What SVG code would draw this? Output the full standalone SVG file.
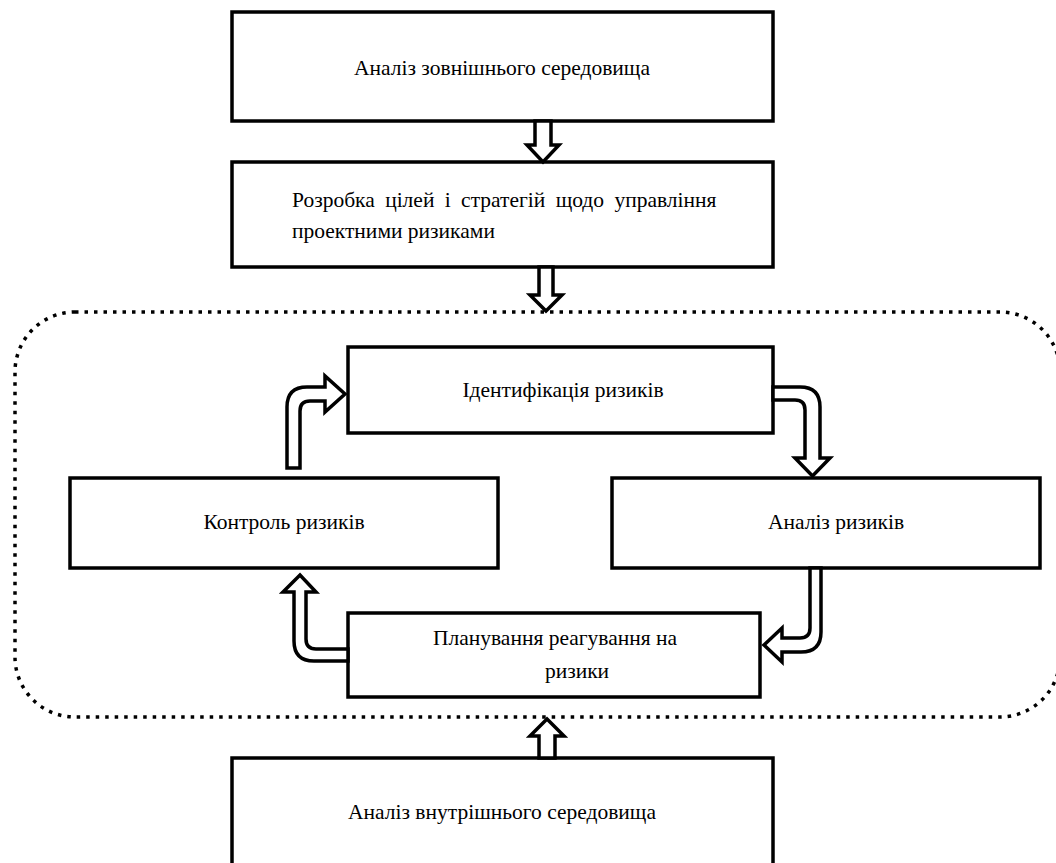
<svg xmlns="http://www.w3.org/2000/svg" width="1056" height="863" viewBox="0 0 1056 863">
<style>
.box{fill:#fff;stroke:#000;stroke-width:3.5}
.arr{fill:#fff;stroke:#000;stroke-width:3.5;stroke-linejoin:miter}
.t{font-family:"Liberation Serif","Times New Roman",serif;font-size:21.5px;fill:#000}
.frame{fill:none;stroke:#000;stroke-width:3.5;stroke-dasharray:3.5 6}
</style>
<rect width="1056" height="863" fill="#fff"/>
<rect class="frame" x="15" y="312" width="1045" height="405" rx="60" ry="60"/>
<g id="n1"><rect class="box" x="232" y="12" width="541" height="109"/><text class="t" x="502" y="75" text-anchor="middle">Аналіз зовнішнього середовища</text></g>
<g id="n2"><rect class="box" x="232" y="162" width="541" height="105"/><text class="t" x="292" y="207" word-spacing="5">Розробка цілей і стратегій щодо управління</text><text class="t" x="292" y="238">проектними ризиками</text></g>
<g id="n3"><rect class="box" x="348" y="347" width="425" height="86"/><text class="t" x="563" y="397" text-anchor="middle">Ідентифікація ризиків</text></g>
<g id="n4"><rect class="box" x="70" y="478" width="428" height="90"/><text class="t" x="284" y="529" text-anchor="middle">Контроль ризиків</text></g>
<g id="n5"><rect class="box" x="612" y="478" width="428" height="90"/><text class="t" x="836" y="529" text-anchor="middle">Аналіз ризиків</text></g>
<g id="n6"><rect class="box" x="348" y="613" width="412" height="84"/><text class="t" x="555" y="645" text-anchor="middle">Планування реагування на</text><text class="t" x="577" y="678" text-anchor="middle">ризики</text></g>
<g id="n7"><rect class="box" x="232" y="758" width="541" height="120"/><text class="t" x="502" y="819" text-anchor="middle">Аналіз внутрішнього середовища</text></g>
<g id="connectors">
<path class="arr" d="M535,121 L551,121 L551,145 L559,145 L543,162 L527,145 L535,145 Z"/>
<path class="arr" d="M539,267 L553,267 L553,295 L562,295 L546,311 L530,295 L539,295 Z"/>
<path class="arr" d="M539,758 L555,758 L555,736 L564,736 L547,719 L530,736 L539,736 Z"/>
<path class="arr" d="M287,468 L287,407 Q287,387 307,387 L325,387 L325,376 L345,394 L325,412 L325,401 L310,401 Q300,401 300,411 L300,468 Z"/>
<path class="arr" d="M773,387 L800,387 Q820,387 820,407 L820,458 L830,458 L812.5,476 L795,458 L805,458 L805,410 Q805,400 795,400 L773,400 Z"/>
<path class="arr" d="M810,568 L810,628 Q810,638 800,638 L782,638 L782,628 L764,645 L782,662 L782,652 L801,652 Q821,652 821,632 L821,568 Z"/>
<path class="arr" d="M348,649 L316,649 Q306,649 306,639 L306,592 L316,592 L300,575 L283,592 L294,592 L294,641 Q294,661 314,661 L348,661 Z"/>
</g>
</svg>
